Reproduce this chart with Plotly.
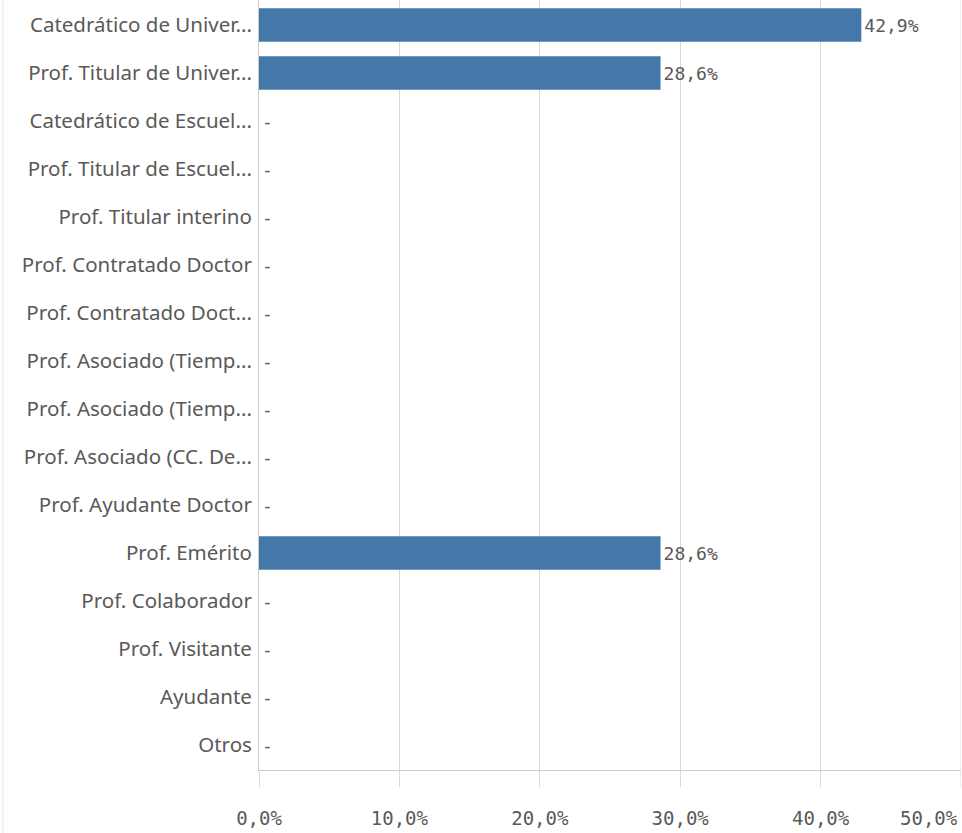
import plotly.graph_objects as go

categories = [
    "Catedrático de Univer...",
    "Prof. Titular de Univer...",
    "Catedrático de Escuel...",
    "Prof. Titular de Escuel...",
    "Prof. Titular interino",
    "Prof. Contratado Doctor",
    "Prof. Contratado Doct...",
    "Prof. Asociado (Tiemp...",
    "Prof. Asociado (Tiemp...",
    "Prof. Asociado (CC. De...",
    "Prof. Ayudante Doctor",
    "Prof. Emérito",
    "Prof. Colaborador",
    "Prof. Visitante",
    "Ayudante",
    "Otros",
]
values = [42.9, 28.6, 0, 0, 0, 0, 0, 0, 0, 0, 0, 28.6, 0, 0, 0, 0]
tick_values = [0, 10, 20, 30, 40, 50]
tick_labels = ["0,0%", "10,0%", "20,0%", "30,0%", "40,0%", "50,0%"]

# unique y ids (some truncated labels repeat)
ids = list(range(len(categories)))
texts = [(f"{v:.1f}%".replace(".", ",") if v > 0 else "-") for v in values]

GRID = "#d9d9d9"
AXIS = "#cccccc"
TXT = "#595959"
MONO = "DejaVu Sans Mono"

fig = go.Figure(
    go.Bar(
        x=values,
        y=ids,
        orientation="h",
        marker=dict(color="#4477aa", line=dict(width=0)),
        text=texts,
        textposition="outside",
        textfont=dict(family=MONO, size=18, color=TXT),
        cliponaxis=False,
        hoverinfo="skip",
    )
)

n = len(categories)
PLOT_H = 770
SLOT = 48.0
y_top = -25.0 / SLOT
y_bottom = y_top + PLOT_H / SLOT
fig.update_layout(
    width=962,
    height=833,
    margin=dict(l=259, r=1, t=0, b=63),
    paper_bgcolor="white",
    plot_bgcolor="white",
    bargap=0.30,
    showlegend=False,
    xaxis=dict(
        range=[0, 50],
        tickvals=tick_values[:-1],
        ticktext=tick_labels[:-1],
        showgrid=True,
        gridcolor=GRID,
        gridwidth=1,
        zeroline=False,
        showline=True,
        linecolor=AXIS,
        linewidth=1,
        ticks="outside",
        ticklen=16,
        tickcolor=GRID,
        tickfont=dict(family=MONO, size=19, color=TXT),
        ticklabelstandoff=15,
        automargin=False,
        fixedrange=True,
    ),
    yaxis=dict(
        tickvals=ids,
        ticktext=categories,
        range=[y_bottom, y_top],
        showgrid=False,
        zeroline=False,
        showline=True,
        linecolor=AXIS,
        linewidth=1,
        ticks="",
        tickfont=dict(family="Noto Sans", size=20.5, color=TXT),
        ticklabelstandoff=2,
        automargin=False,
        fixedrange=True,
    ),
)

# 50% gridline and tick (at the plot's right edge)
fig.add_shape(type="line", xref="x", yref="paper", x0=tick_values[-1], x1=tick_values[-1],
              y0=0, y1=1, line=dict(color=GRID, width=1))
fig.add_shape(type="line", xref="x", yref="paper", x0=tick_values[-1], x1=tick_values[-1],
              y0=0, y1=-16 / PLOT_H, line=dict(color=GRID, width=1))
# last tick label, right-aligned so it stays inside the view
fig.add_annotation(x=tick_values[-1], xref="x", y=-48 / PLOT_H, yref="paper",
                   text=tick_labels[-1], showarrow=False, xanchor="right", yanchor="middle",
                   xshift=-1, font=dict(family=MONO, size=19, color=TXT))
# faint container border on the left
fig.add_shape(type="line", xref="paper", yref="paper", x0=-256 / 702, x1=-256 / 702,
              y0=-63 / PLOT_H, y1=1, line=dict(color="#e6e6e6", width=1))

fig.write_html(
    "out.html",
    config={"displayModeBar": False},
    post_script="document.body.style.margin='0'; document.body.style.overflow='hidden';",
)
